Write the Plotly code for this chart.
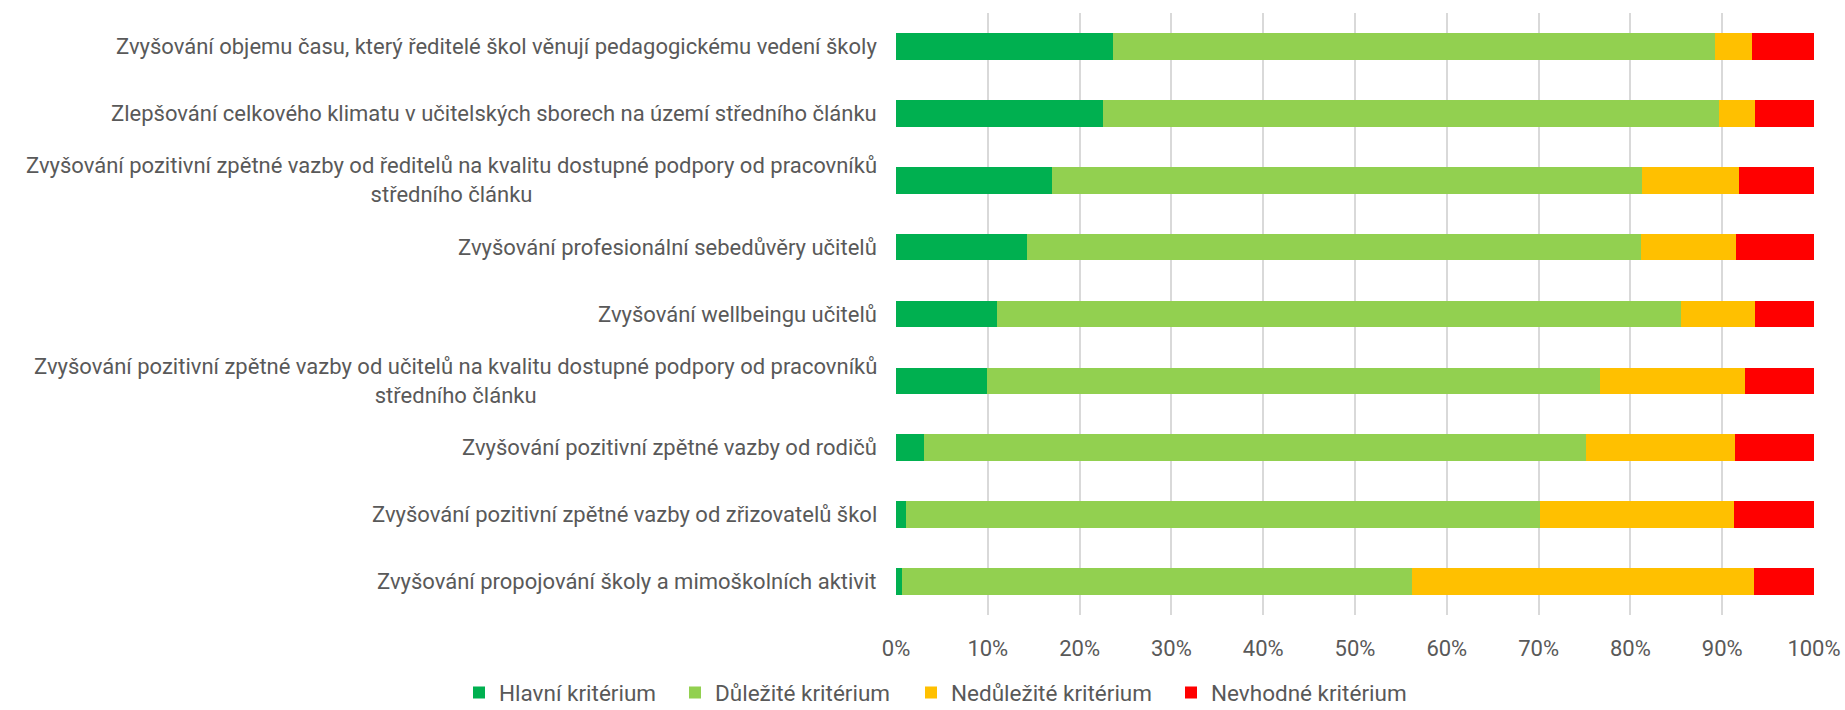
import plotly.graph_objects as go

categories = [
    "Zvyšování objemu času, který ředitelé škol věnují pedagogickému vedení školy",
    "Zlepšování celkového klimatu v učitelských sborech na území středního článku",
    "Zvyšování pozitivní zpětné vazby od ředitelů na kvalitu dostupné podpory od pracovníků<br>středního článku",
    "Zvyšování profesionální sebedůvěry učitelů",
    "Zvyšování wellbeingu učitelů",
    "Zvyšování pozitivní zpětné vazby od učitelů na kvalitu dostupné podpory od pracovníků<br>středního článku",
    "Zvyšování pozitivní zpětné vazby od rodičů",
    "Zvyšování pozitivní zpětné vazby od zřizovatelů škol",
    "Zvyšování propojování školy a mimoškolních aktivit",
]

hlavni = [23.6, 22.6, 17.0, 14.3, 11.0, 9.9, 3.0, 1.1, 0.6]
dulezite = [65.6, 67.0, 64.3, 66.9, 74.5, 66.8, 72.2, 69.0, 55.6]
nedulezite = [4.0, 4.0, 10.5, 10.3, 8.1, 15.8, 16.2, 21.2, 37.3]
nevhodne = [6.8, 6.4, 8.2, 8.5, 6.4, 7.5, 8.6, 8.7, 6.5]

series_names = ["Hlavní kritérium", "Důležité kritérium", "Nedůležité kritérium", "Nevhodné kritérium"]
series_values = [hlavni, dulezite, nedulezite, nevhodne]
colors = ["#00B050", "#92D050", "#FFC000", "#FF0000"]

tick_vals = [0, 10, 20, 30, 40, 50, 60, 70, 80, 90, 100]
tick_text = ["0%", "10%", "20%", "30%", "40%", "50%", "60%", "70%", "80%", "90%", "100%"]

FONT = "Roboto, sans-serif"
GRAY = "#595959"
FS = 22
W, H = 1845, 710

legend_ids = ["legend", "legend2", "legend3", "legend4"]
legend_left_px = [459, 675, 911, 1171]

fig = go.Figure()
for name, vals, col, lid in zip(series_names, series_values, colors, legend_ids):
    fig.add_trace(go.Bar(
        y=categories, x=vals, name=name, orientation="h",
        marker=dict(color=col, line=dict(width=0)),
        legend=lid,
    ))

for cat in categories:
    fig.add_annotation(
        x=0, xref="paper", y=cat, yref="y", text=cat,
        xanchor="right", yanchor="middle", align="center",
        xshift=-17, showarrow=False,
        font=dict(family=FONT, size=FS, color=GRAY),
    )

legend_layout = {}
for lid, px in zip(legend_ids, legend_left_px):
    legend_layout[lid] = dict(
        orientation="h", xref="container", x=px / W, xanchor="left",
        yref="container", y=0.024, yanchor="middle",
        font=dict(family=FONT, size=22.5, color=GRAY),
        itemwidth=30, itemclick=False, bgcolor="rgba(0,0,0,0)",
    )

fig.update_layout(
    barmode="stack",
    bargap=0.6,
    width=W, height=H,
    margin=dict(l=896, r=31, t=13, b=95, autoexpand=False),
    plot_bgcolor="white", paper_bgcolor="white",
    font=dict(family=FONT, size=FS, color=GRAY),
    showlegend=True,
    xaxis=dict(
        range=[0, 100], tickvals=tick_vals, ticktext=tick_text,
        showgrid=True, gridcolor="#D9D9D9", gridwidth=1.5,
        zeroline=False, showline=False, ticks="",
        ticklabelstandoff=18, automargin=False,
        tickfont=dict(family=FONT, size=FS, color=GRAY),
        fixedrange=True,
    ),
    yaxis=dict(
        autorange="reversed", showticklabels=False, showgrid=False,
        zeroline=False, showline=False, ticks="", fixedrange=True,
        automargin=False,
    ),
    **legend_layout,
)

fig.write_html(
    "out.html",
    config={"displayModeBar": False},
    post_script="document.body.style.margin='0';",
)
